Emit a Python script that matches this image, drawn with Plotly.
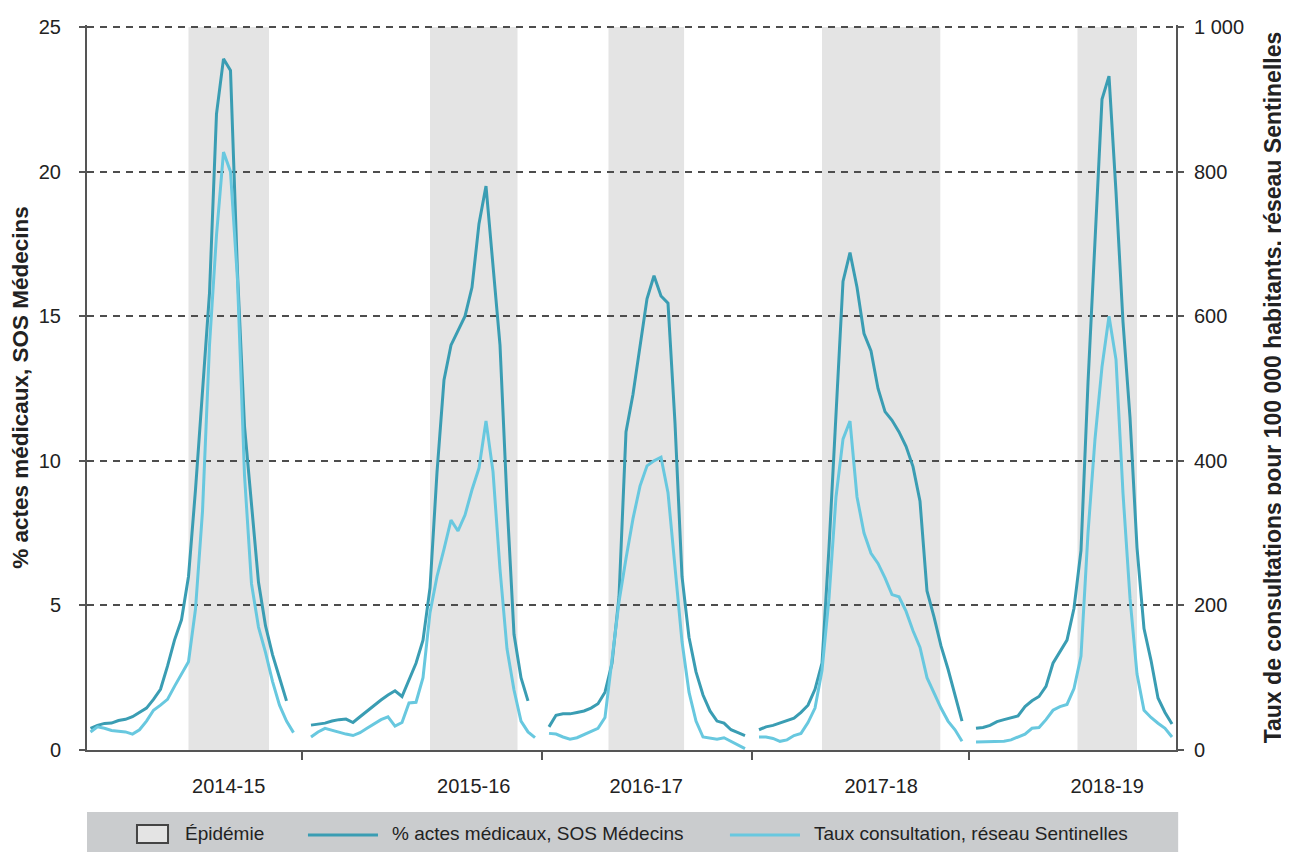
import plotly.graph_objects as go

# Flu seasons, weekly data (running week index on the x axis, summer weeks left out)
seasons = ["2014-15", "2015-16", "2016-17", "2017-18", "2018-19"]
season_start = [0.5, 32, 66, 96, 127]        # running week of first data point
epi_start = [14.5, 49, 74.5, 105, 141.5]     # epidemic period (running weeks)
epi_end = [26, 61.5, 85.3, 121.9, 150]

# % actes médicaux, SOS Médecins (left axis)
sos_2014 = [0.75, 0.85, 0.92, 0.93, 1.02, 1.06, 1.15, 1.3, 1.45, 1.75, 2.1, 2.9, 3.8, 4.5,
            6.0, 9.0, 12.3, 15.8, 22.0, 23.9, 23.5, 16.5, 11.2, 8.4, 5.8, 4.3, 3.3, 2.5, 1.7]
sos_2015 = [0.86, 0.9, 0.93, 1.0, 1.05, 1.07, 0.95, 1.15, 1.35, 1.55, 1.73, 1.9, 2.05, 1.85,
            2.4, 3.0, 3.8, 5.6, 9.6, 12.8, 14.0, 14.5, 15.0, 16.0, 18.2, 19.5, 16.7, 14.0,
            8.6, 4.0, 2.5, 1.7]
sos_2016 = [0.8, 1.2, 1.25, 1.25, 1.3, 1.35, 1.45, 1.6, 2.0, 3.0, 5.3, 11.0, 12.3, 14.0,
            15.6, 16.4, 15.7, 15.45, 11.3, 6.0, 3.9, 2.7, 1.9, 1.35, 1.0, 0.93, 0.7, 0.6, 0.5]
sos_2017 = [0.7, 0.8, 0.85, 0.93, 1.0, 1.1, 1.3, 1.55, 2.1, 3.0, 7.0, 11.5, 16.2, 17.2,
            16.0, 14.4, 13.8, 12.5, 11.7, 11.4, 11.0, 10.5, 9.8, 8.6, 5.5, 4.6, 3.6, 2.8,
            1.9, 1.0]
sos_2018 = [0.75, 0.78, 0.85, 0.98, 1.05, 1.12, 1.18, 1.5, 1.7, 1.85, 2.2, 3.0, 3.4, 3.8,
            4.9, 6.9, 12.7, 17.6, 22.5, 23.3, 19.3, 14.8, 11.5, 7.0, 4.2, 3.1, 1.8, 1.3, 0.9]

# Taux de consultations pour 100 000 habitants, réseau Sentinelles (right axis)
senti_2014 = [25, 32, 30, 27, 26, 25, 22, 28, 40, 55, 62, 70, 88, 106, 122, 195, 330, 560,
              712, 827, 800, 650, 380, 230, 170, 135, 95, 62, 40, 24]
senti_2015 = [18, 25, 30, 27, 24, 22, 20, 24, 30, 36, 42, 46, 33, 38, 65, 66, 100, 190, 240,
              278, 318, 303, 325, 360, 390, 455, 385, 250, 140, 83, 40, 25, 17]
senti_2016 = [23, 22, 18, 15, 17, 21, 26, 30, 45, 125, 205, 265, 320, 365, 393, 400, 405,
              356, 250, 150, 80, 40, 18, 16, 15, 17, 12, 6, 2]
senti_2017 = [18, 18, 16, 12, 14, 20, 23, 38, 58, 110, 210, 350, 430, 455, 350, 300, 272,
              258, 238, 215, 212, 192, 165, 142, 100, 78, 58, 40, 28, 12]
senti_2018 = [11, 11, 11, 11, 12, 14, 18, 22, 30, 31, 42, 55, 60, 63, 85, 130, 300, 430,
              530, 600, 540, 355, 210, 105, 55, 45, 37, 30, 18]

sos_series = [sos_2014, sos_2015, sos_2016, sos_2017, sos_2018]
senti_series = [senti_2014, senti_2015, senti_2016, senti_2017, senti_2018]

legend_names = ["Épidémie", "% actes médicaux, SOS Médecins",
                "Taux consultation, réseau Sentinelles"]

DARK = "#3a9db3"
LIGHT = "#68c8df"
AXIS = "#555555"
TXT = "#222222"
FONT = "Liberation Sans, Arial, sans-serif"
YMAX = 25.07  # a bit above 25 so plotly keeps the top dashed gridline


def join_seasons(series_list):
    # one x/y list per series, with a gap between seasons
    xs, ys = [], []
    for start, vals in zip(season_start, series_list):
        xs += [start + i for i in range(len(vals))] + [None]
        ys += list(vals) + [None]
    return xs, ys


sos_x, sos_y = join_seasons(sos_series)
senti_x, senti_y = join_seasons(senti_series)

# season separators: halfway between end of one season and start of next
separators = []
for k in range(len(seasons) - 1):
    last = season_start[k] + max(len(sos_series[k]), len(senti_series[k])) - 1
    separators.append((last + season_start[k + 1]) / 2)
label_pos = [(a + b) / 2 for a, b in zip(epi_start, epi_end)]

fig = go.Figure()
fig.add_trace(go.Scatter(x=senti_x, y=senti_y, yaxis="y2", mode="lines",
                         line=dict(color=LIGHT, width=3), name=legend_names[2],
                         connectgaps=False, showlegend=False))
fig.add_trace(go.Scatter(x=sos_x, y=sos_y, mode="lines",
                         line=dict(color=DARK, width=3), name=legend_names[1],
                         connectgaps=False, showlegend=False))

shapes = []
# epidemic periods
for a, b in zip(epi_start, epi_end):
    shapes.append(dict(type="rect", xref="x", yref="y", x0=a, x1=b, y0=0, y1=25,
                       fillcolor="#e4e4e4", line=dict(width=0), layer="below"))

# hand-made legend strip under the chart
shapes.append(dict(type="rect", xref="paper", yref="paper", x0=0, x1=1.002,
                   y0=-0.0855, y1=-0.16, fillcolor="#caccce", line=dict(width=0)))
shapes.append(dict(type="rect", xref="paper", yref="paper", x0=0.0459, x1=0.0744,
                   y0=-0.1034, y1=-0.1282, fillcolor="#e4e4e4",
                   line=dict(color="#444444", width=2)))
shapes.append(dict(type="line", xref="paper", yref="paper", x0=0.2029, x1=0.2672,
                   y0=-0.1172, y1=-0.1172, line=dict(color=DARK, width=3)))
shapes.append(dict(type="line", xref="paper", yref="paper", x0=0.5904, x1=0.6547,
                   y0=-0.1172, y1=-0.1172, line=dict(color=LIGHT, width=3)))

annotations = []
for xp, txt in zip([0.0882, 0.2782, 0.6657], legend_names):
    annotations.append(dict(xref="paper", yref="paper", x=xp, y=-0.1158, text=txt,
                            showarrow=False, xanchor="left", yanchor="middle",
                            font=dict(family=FONT, size=19, color=TXT)))

# page body has an 8px margin, so the figure is 8px smaller than the window
fig.update_layout(
    width=1281,
    height=844,
    plot_bgcolor="white",
    paper_bgcolor="white",
    margin=dict(l=79, r=113, t=17, b=102, autoexpand=False),
    showlegend=False,
    separators=", ",
    shapes=shapes,
    annotations=annotations,
    font=dict(family=FONT, color=TXT),
)

fig.update_xaxes(
    range=[0, 1089 / 7],
    automargin=False,
    showgrid=False,
    zeroline=False,
    showline=True,
    linecolor=AXIS,
    linewidth=2,
    tickmode="array",
    tickvals=label_pos,
    ticktext=seasons,
    ticks="",
    ticklabelstandoff=17,
    tickfont=dict(size=20, color=TXT),
    minor=dict(tickmode="array", tickvals=separators, ticks="outside", ticklen=8,
               tickwidth=2, tickcolor=AXIS, showgrid=False),
)

fig.update_yaxes(
    range=[0, YMAX],
    tickvals=[0, 5, 10, 15, 20, 25],
    automargin=False,
    showgrid=True,
    gridcolor="#4d4d4d",
    gridwidth=2,
    griddash="7px,6px",
    zeroline=False,
    showline=True,
    linecolor=AXIS,
    linewidth=2,
    ticks="outside",
    ticklen=6,
    tickwidth=2,
    tickcolor=AXIS,
    ticklabelstandoff=14,
    tickfont=dict(size=20, color=TXT),
    title=dict(text="% actes médicaux, SOS Médecins",
               font=dict(size=22.5, color=TXT, weight="bold"),
               standoff=6),
)

fig.update_layout(
    yaxis2=dict(
        overlaying="y",
        side="right",
        anchor="x",
        automargin=False,
        range=[0, YMAX * 40],
        tickvals=[0, 200, 400, 600, 800, 1000],
        tickformat=",d",
        showgrid=False,
        zeroline=False,
        showline=True,
        linecolor=AXIS,
        linewidth=2,
        ticks="outside",
        ticklen=6,
        tickwidth=2,
        tickcolor=AXIS,
        ticklabelstandoff=6,
        tickfont=dict(size=20, color=TXT),
        title=dict(text="Taux de consultations pour 100 000 habitants, réseau Sentinelles",
                   font=dict(size=23, color=TXT, weight="bold"),
                   standoff=22),
    )
)

fig.write_html("out.html")
